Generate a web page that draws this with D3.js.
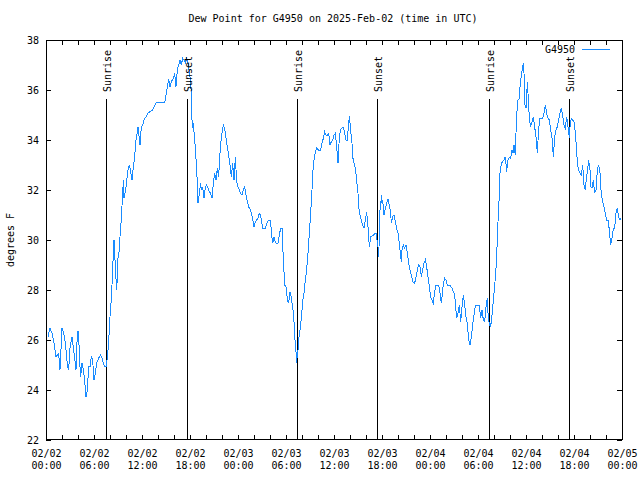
<!DOCTYPE html>
<html><head><meta charset="utf-8">
<script src="https://cdn.jsdelivr.net/npm/d3@7"></script>
<style>
body{margin:0;background:#fff}
svg{display:block}
text{font-family:"DejaVu Sans Mono",monospace;font-size:10px;fill:#000}
</style>
</head><body><svg id="c" width="640" height="480"></svg>
<script>
// hours since 2025-02-02 00:00 UTC
const hoursUTC = [
0.25,0.5,0.75,1.0,1.25,1.42,1.58,1.75,1.83,2.0,2.17,2.33,2.5,2.67,2.83,3.0,3.25,3.42,3.58,3.75,3.92,4.08,4.17,4.33,4.5,4.67,4.83,5.0,5.17,5.33,5.5,5.67,5.83,6.0,6.17,6.33,6.5,6.67,6.83,7.0,7.17,7.33,7.5,7.67,7.83,8.0,8.17,8.33,8.42,8.5,8.67,8.83,8.92,9.0,9.17,9.25,9.42,9.58,9.67,9.75,9.92,10.08,10.25,10.42,10.58,10.75,10.92,11.08,11.25,11.42,
11.5,11.75,11.92,12.08,12.25,12.5,12.75,13.0,13.33,13.75,14.83,15.0,15.17,15.33,15.5,15.67,15.92,16.08,16.25,16.42,16.58,16.75,16.92,17.08,17.25,17.42,17.58,17.75,18.0,18.17,18.25,18.33,18.42,18.5,18.67,18.83,18.92,19.0,19.17,19.33,19.42,19.58,19.75,19.92,20.08,20.25,20.42,20.58,20.75,20.92,21.08,21.25,21.42,21.58,21.67,21.83,22.0,22.17,22.33,22.5,22.67,22.83,23.0,23.17,23.33,23.5,23.67,23.83,
24.0,24.17,24.33,24.5,24.67,24.83,25.0,25.17,25.33,25.5,25.67,25.83,26.0,26.17,26.33,26.5,26.67,26.83,26.92,27.08,27.42,27.67,27.83,28.08,28.17,28.33,28.5,28.58,28.75,29.0,29.17,29.33,29.5,29.58,29.67,29.75,29.83,30.0,30.08,30.17,30.33,30.5,30.58,30.67,30.83,30.92,31.08,31.17,31.25,31.33,31.42,31.5,31.58,31.75,31.92,32.08,32.25,32.42,32.58,32.75,32.92,33.08,33.25,33.33,33.5,33.67,33.83,34.08,34.33,34.5,34.67,34.83,35.0,
35.17,35.33,35.5,35.67,35.83,36.0,36.17,36.33,36.5,36.67,36.83,37.0,37.17,37.33,37.5,37.67,37.83,37.92,38.08,38.25,38.33,38.5,38.67,38.83,39.0,39.08,39.25,39.42,39.58,39.75,39.92,40.08,40.25,40.42,40.58,40.75,40.92,41.08,41.25,41.42,41.5,41.58,41.67,41.75,41.83,41.92,42.0,42.08,42.25,42.42,42.58,42.75,42.92,43.08,43.17,43.33,43.5,43.67,43.83,44.0,44.17,44.33,44.42,44.5,44.67,44.83,45.0,45.17,45.33,45.5,45.67,45.83,46.08,46.25,46.42,46.58,
46.75,46.92,47.08,47.25,47.42,47.58,47.75,47.92,48.08,48.25,48.42,48.58,48.75,49.08,49.25,49.42,49.5,49.67,49.83,50.0,50.17,50.5,50.75,50.92,51.08,51.17,51.33,51.5,51.67,51.83,52.0,52.17,52.33,52.5,52.67,52.83,53.0,53.17,53.33,53.5,53.67,53.92,54.17,54.33,54.5,54.67,54.83,55.0,55.17,55.25,55.42,55.58,55.75,55.92,56.08,56.25,56.42,56.5,56.67,56.75,56.92,57.08,57.25,57.42,57.58,57.75,57.92,58.08,58.25,58.42,58.5,58.67,
58.75,58.83,59.0,59.17,59.25,59.42,59.58,59.67,59.75,59.83,60.0,60.17,60.25,60.42,60.58,60.75,60.92,61.08,61.25,61.42,61.58,61.75,62.08,62.25,62.42,62.58,62.75,62.92,63.08,63.25,63.42,63.58,63.75,63.92,64.08,64.25,64.42,64.58,64.75,64.92,65.08,65.25,65.42,65.5,65.67,65.83,66.0,66.17,66.33,66.42,66.58,66.75,66.92,67.08,67.17,67.25,67.42,67.5,67.67,67.83,68.0,68.08,68.25,68.42,68.58,68.75,68.92,69.08,69.25,69.42,69.58,69.75,69.92,70.08,70.25,70.42,70.58,70.75,70.92,71.08,71.25,71.42,71.58,71.75,71.92
];
const dewPointF = [
26.13,26.47,26.27,25.87,25.33,25.4,25.47,24.8,25.33,26.47,26.33,26.07,25.6,25.0,24.8,25.67,26.13,25.67,25.27,24.8,26.33,26.33,25.33,24.53,25.07,24.8,24.4,23.73,24.0,24.93,24.93,25.33,25.2,24.4,24.67,25.07,25.2,25.33,25.4,25.27,25.07,24.93,24.93,25.27,25.93,26.93,27.67,28.73,29.53,30.0,28.93,28.0,28.53,29.27,29.6,30.13,30.87,31.87,32.4,31.67,31.93,32.33,32.8,33.0,32.73,32.4,32.93,33.33,34.0,34.33,
34.53,33.8,34.53,34.6,34.8,34.93,35.07,35.13,35.2,35.49,35.49,35.8,36.13,36.43,36.13,36.33,36.47,36.67,36.13,36.8,37.0,37.2,37.0,37.27,37.2,37.1,37.27,37.07,36.53,35.87,34.8,34.47,34.67,34.33,33.67,32.87,32.2,31.47,31.87,32.27,32.0,32.13,31.67,32.13,32.2,32.07,31.93,31.87,31.67,32.27,32.67,32.4,32.87,32.53,33.07,33.87,34.27,34.6,34.47,34.07,33.73,33.4,33.0,32.53,33.07,32.4,33.33,32.33,
32.13,32.0,31.87,31.8,32.0,32.13,31.8,31.53,31.33,31.23,31.07,30.87,30.53,30.73,30.8,30.87,31.07,31.0,30.8,30.47,30.47,30.73,30.8,30.8,30.27,29.87,30.13,30.0,29.87,29.87,30.2,30.47,30.47,29.87,29.2,28.73,28.2,28.13,27.93,27.6,27.47,27.93,27.87,27.67,27.33,27.07,26.4,25.6,25.53,25.07,25.47,25.6,26.0,26.4,26.87,27.53,27.87,28.4,28.8,29.47,30.27,31.07,32.0,32.67,33.2,33.53,33.67,33.6,33.6,33.87,34.07,34.33,34.2,
34.2,34.27,33.8,33.93,34.0,34.2,34.27,33.73,33.07,34.13,34.43,34.47,34.51,34.27,34.0,34.0,34.67,34.96,34.4,33.87,33.33,33.07,32.87,32.4,31.87,31.33,31.0,30.8,30.6,30.47,30.8,31.13,30.53,29.73,30.13,30.16,30.2,30.24,30.27,29.93,29.73,29.33,30.13,31.2,31.33,31.8,31.47,31.6,31.0,31.27,31.47,31.63,31.4,31.07,30.67,30.93,31.0,30.73,30.47,30.27,29.87,29.33,29.13,29.6,29.8,29.67,29.8,29.47,29.07,28.8,28.6,28.33,28.27,28.53,28.8,29.0,
28.93,28.53,28.8,29.07,29.2,28.93,28.53,28.13,27.73,27.6,27.47,27.93,28.2,28.2,27.87,27.47,27.73,28.27,28.47,28.4,28.2,28.2,28.07,27.93,27.8,27.47,26.87,27.07,27.4,26.73,27.33,27.8,27.4,26.93,26.67,26.0,25.8,26.13,26.6,27.0,27.4,27.4,27.4,26.87,27.2,26.8,26.73,27.33,27.67,27.07,26.6,26.53,27.0,27.6,28.13,28.87,30.0,30.73,31.87,32.67,33.07,33.13,33.2,33.33,32.73,33.2,33.31,33.27,33.6,33.47,33.8,33.4,
34.27,35.0,35.6,35.67,36.13,36.6,36.93,37.09,36.67,35.47,35.27,36.33,35.87,34.87,34.53,34.73,34.93,34.53,34.13,33.47,34.47,34.87,34.87,35.07,35.4,35.07,34.87,34.8,34.4,34.07,33.33,34.13,34.4,34.53,34.8,35.07,35.27,35.0,34.6,34.47,34.93,34.53,34.07,34.53,34.87,34.8,34.73,34.27,33.6,33.07,32.8,32.67,32.6,33.0,32.6,32.2,32.0,32.33,32.73,33.2,32.8,32.13,32.07,32.4,31.87,32.0,32.8,33.0,32.67,31.8,31.53,31.33,31.07,30.8,30.8,30.4,29.8,30.07,30.47,30.47,31.07,31.27,30.93,30.8,30.9
];
const sunriseHours = [7.54, 31.42, 55.42];
const sunsetHours = [17.58, 41.42, 65.42];
const yTicks = [22,24,26,28,30,32,34,36,38];
const xTickHours = d3.range(0, 73, 2);
const xLabelHours = [0,6,12,18,24,30,36,42,48,54,60,66,72];
const seriesName = "G4950";
const titleText = "Dew Point for G4950 on 2025-Feb-02 (time in UTC)";
const yLabelText = "degrees F";

const t0 = Date.UTC(2025,1,2,0,0);
const toDate = h => new Date(t0 + h*3600000);
const data = hoursUTC.map((h,i)=>({t:toDate(h), v:dewPointF[i]}));

const L=46, R=622, T=40, B=440;
const svg = d3.select("#c");
const x = d3.scaleUtc().domain([toDate(0), toDate(72)]).range([L,R]);
const y = d3.scaleLinear().domain([22,38]).range([B,T]);

// sunrise / sunset lines
const events = sunriseHours.map(h=>({h, name:"Sunrise"})).concat(sunsetHours.map(h=>({h, name:"Sunset"})));
const ev = svg.append("g");
ev.selectAll("line").data(events).join("line")
  .attr("x1", d=>Math.round(x(toDate(d.h)))+0.5).attr("x2", d=>Math.round(x(toDate(d.h)))+0.5)
  .attr("y1", 99).attr("y2", B).attr("stroke","#000").attr("stroke-width",1);

// data
svg.append("path").datum(data)
  .attr("fill","none").attr("stroke","#1a8cff").attr("stroke-width",1)
  .attr("shape-rendering","crispEdges")
  .attr("d", d3.line().x(d=>x(d.t)).y(d=>y(d.v)));

svg.selectAll("text.ev").data(events).join("text").attr("class","ev")
  .attr("transform", d=>`translate(${Math.round(x(toDate(d.h)))+5},92) rotate(-90)`)
  .attr("text-anchor","start").text(d=>d.name);

// axes
const fmt1 = d3.utcFormat("%m/%d"), fmt2 = d3.utcFormat("%H:%M");
const xb = svg.append("g").attr("transform",`translate(0,${B})`)
  .call(d3.axisBottom(x).tickValues(xTickHours.map(toDate)).tickSizeInner(-5).tickSizeOuter(0).tickPadding(11)
    .tickFormat(d => xLabelHours.includes(Math.round((d-t0)/3600000)) ? "x" : ""));
xb.select(".domain").remove();
xb.selectAll(".tick text").each(function(d){
  const s = d3.select(this);
  if (s.text()==="") return;
  s.text(null).attr("dy",null);
  s.append("tspan").attr("x",0).attr("y",17).text(fmt1(d));
  s.append("tspan").attr("x",0).attr("y",29).text(fmt2(d));
});
const xt = svg.append("g").attr("transform",`translate(0,${T})`)
  .call(d3.axisTop(x).tickValues(xTickHours.map(toDate)).tickSizeInner(-5).tickSizeOuter(0).tickFormat(""));
xt.select(".domain").remove();
const yl = svg.append("g").attr("transform",`translate(${L},0)`)
  .call(d3.axisLeft(y).tickValues(yTicks).tickSizeInner(-5).tickSizeOuter(0).tickPadding(7).tickFormat(d3.format("d")));
yl.select(".domain").remove();
const yr = svg.append("g").attr("transform",`translate(${R},0)`)
  .call(d3.axisRight(y).tickValues(yTicks).tickSizeInner(-5).tickSizeOuter(0).tickFormat(""));
yr.select(".domain").remove();
svg.selectAll("g").attr("font-family",null).attr("font-size",null);

// frame
svg.append("rect").attr("x",L+0.5).attr("y",T+0.5).attr("width",R-L).attr("height",B-T-1)
  .attr("fill","none").attr("stroke","#000").attr("stroke-width",1);

// title & labels
svg.append("text").attr("x",333).attr("y",22).attr("text-anchor","middle").text(titleText);
svg.append("text").attr("transform","translate(14,240) rotate(-90)").attr("text-anchor","middle").text(yLabelText);

// legend
svg.append("text").attr("x",575).attr("y",53).attr("text-anchor","end").text(seriesName);
svg.append("line").attr("x1",582).attr("x2",610).attr("y1",49.5).attr("y2",49.5)
  .attr("stroke","#1a8cff").attr("stroke-width",1);
</script>
</body></html>
